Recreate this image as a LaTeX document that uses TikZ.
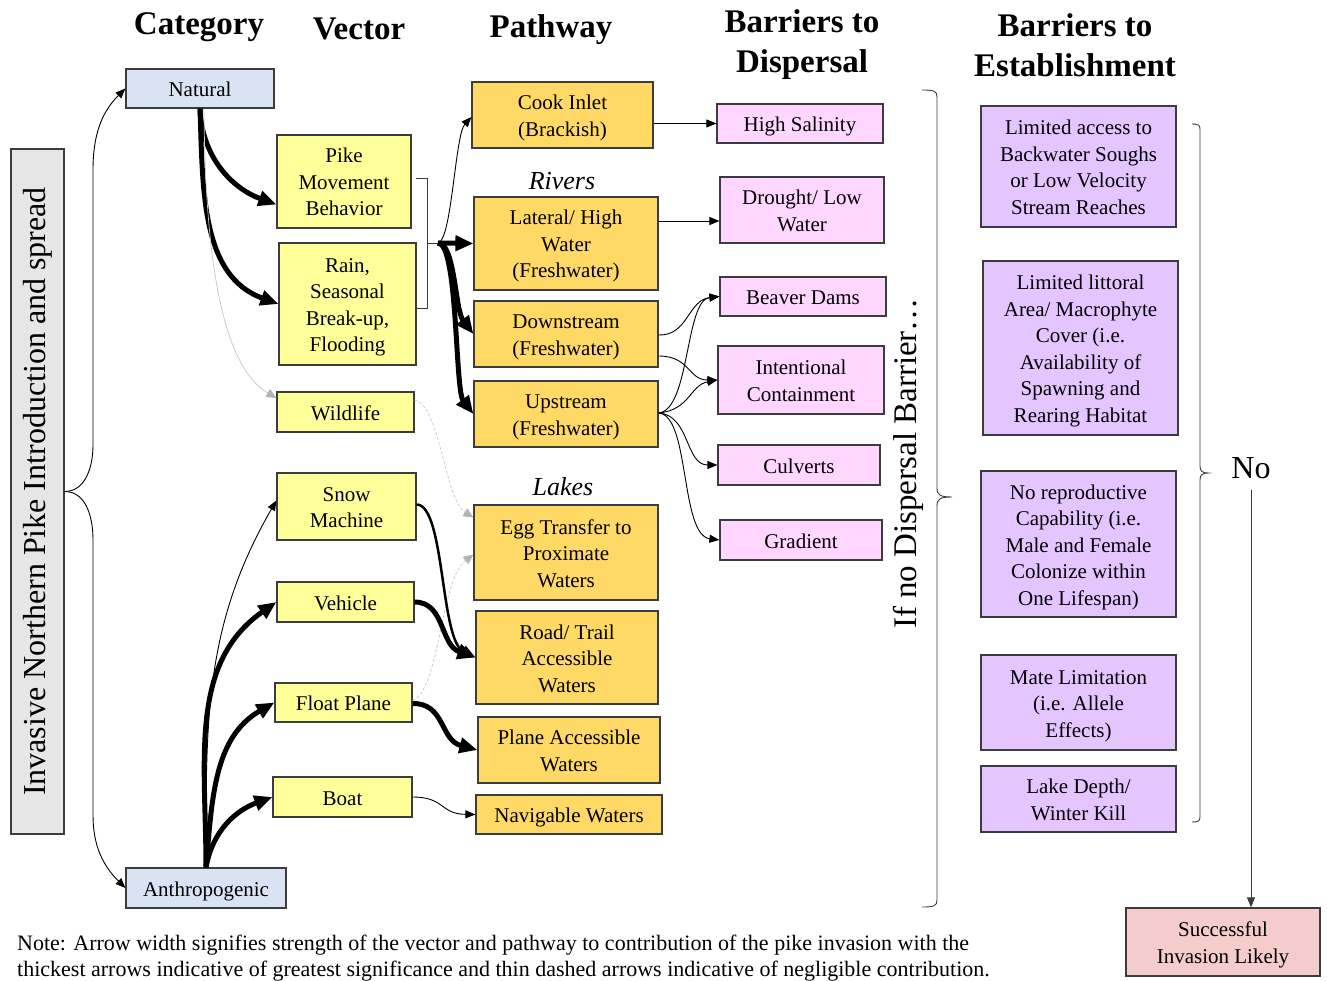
\documentclass[tikz,border=0pt]{standalone}
\usepackage{fontspec}
\setmainfont{Liberation Serif}
\usetikzlibrary{arrows.meta,calc}
\definecolor{catblue}{HTML}{DAE3F3}
\definecolor{titlegray}{HTML}{E6E6E6}
\definecolor{vecyellow}{HTML}{FFFF99}
\definecolor{pathorange}{HTML}{FFD966}
\definecolor{disppink}{HTML}{FFD6FF}
\definecolor{estpurple}{HTML}{E5C5FF}
\definecolor{succpink}{HTML}{F4CCCC}
\definecolor{boxline}{HTML}{3C3C3C}
% strut for the first line of a multi-line box
\newcommand\fl{\rule{0pt}{21pt}}
\begin{document}
\begin{tikzpicture}[x=1pt,y=-1pt,
  box/.style={draw=boxline, line width=1.2pt, align=center, inner sep=1pt,
    font=\fontsize{21}{26.5}\selectfont,
    execute at begin node={\rule{0pt}{21pt}},
    execute at end node={\rule[-5pt]{0pt}{0pt}}},
  catbox/.style={box, fill=catblue},
  vecbox/.style={box, fill=vecyellow},
  pathbox/.style={box, fill=pathorange},
  dispbox/.style={box, fill=disppink},
  estbox/.style={box, fill=estpurple},
  header/.style={align=center, font=\fontsize{33}{40}\selectfont\bfseries},
  sublabel/.style={font=\fontsize{26}{28}\selectfont\itshape},
  thinarr/.style={line width=0.9pt, -{Triangle[length=10pt,width=8pt]}},
  medarr/.style={line width=2.5pt, -{Triangle[length=14pt,width=12pt]}},
  thickarr/.style={line width=5pt, -{Triangle[length=18pt,width=15pt]}},
  faintarr/.style={line width=0.7pt, draw=gray!45, -{Triangle[length=10pt,width=9pt,color=gray!60]}},
  dasharr/.style={faintarr, dash pattern=on 3pt off 2pt},
  bracket/.style={line width=0.9pt, draw=boxline},
]
\fill[white] (0,0) rectangle (1327,981);
\useasboundingbox (0,0) rectangle (1327,981);

% column headers
\node[header] (hcat) at (199,27) {Category};
\node[header] (hvec) at (359,29) {Vector};
\node[header] (hpath) at (551,30) {Pathway};
\node[header] (hdisp) at (802,45) {Barriers to\\Dispersal};
\node[header] (hest) at (1075,45) {Barriers to\\Establishment};

% title bar
\node[draw=boxline, line width=1.2pt, fill=titlegray, rotate=90, minimum width=685pt,
  minimum height=53pt, inner sep=0pt, font=\fontsize{32}{36}\selectfont] (inv) at (37.5,491.5)
  {Invasive Northern Pike Introduction and spread};

% categories
\node[catbox, minimum width=148pt, minimum height=39pt] (natural) at (200,88.5) {Natural};
\node[catbox, minimum width=160pt, minimum height=40pt] (anthro) at (206,888) {Anthropogenic};

% vectors
\node[vecbox, minimum width=134pt, minimum height=93pt] (pike) at (344,181.5) {\fl Pike\\Movement\\Behavior};
\node[vecbox, minimum width=137pt, minimum height=122pt] (rain) at (347.5,304) {\fl Rain,\\Seasonal\\Break-up,\\Flooding};
\node[vecbox, minimum width=137pt, minimum height=40pt] (wild) at (345.5,412) {Wildlife};
\node[vecbox, minimum width=139pt, minimum height=67pt] (snow) at (346.5,506.5) {\fl Snow\\Machine};
\node[vecbox, minimum width=137pt, minimum height=40pt] (vehicle) at (345.5,602) {Vehicle};
\node[vecbox, minimum width=137pt, minimum height=39pt] (float) at (343.5,702.5) {Float Plane};
\node[vecbox, minimum width=139pt, minimum height=40pt] (boat) at (342.5,797) {Boat};

% pathways
\node[pathbox, minimum width=181pt, minimum height=66pt] (cook) at (562.5,115) {\fl Cook Inlet\\(Brackish)};
\node[sublabel] (rivers) at (562,181) {Rivers};
\node[pathbox, minimum width=184pt, minimum height=93pt] (lateral) at (566,243.5) {\fl Lateral/ High\\Water\\(Freshwater)};
\node[pathbox, minimum width=184pt, minimum height=66pt] (down) at (566,334) {\fl Downstream\\(Freshwater)};
\node[pathbox, minimum width=184pt, minimum height=66pt] (up) at (566,414) {\fl Upstream\\(Freshwater)};
\node[sublabel] (lakes) at (563,487) {Lakes};
\node[pathbox, minimum width=184pt, minimum height=95pt] (egg) at (566,552.5) {\fl Egg Transfer to\\Proximate\\Waters};
\node[pathbox, minimum width=182pt, minimum height=93pt] (road) at (567,657.5) {\fl Road/ Trail\\Accessible\\Waters};
\node[pathbox, minimum width=182pt, minimum height=66pt] (plane) at (569,750) {\fl Plane Accessible\\Waters};
\node[pathbox, minimum width=186pt, minimum height=39pt] (navig) at (569,814.5) {Navigable Waters};

% barriers to dispersal
\node[dispbox, minimum width=166pt, minimum height=39pt] (salin) at (800,123.5) {High Salinity};
\node[dispbox, minimum width=164pt, minimum height=66pt] (drought) at (802,210) {\fl Drought/ Low\\Water};
\node[dispbox, minimum width=166pt, minimum height=39pt] (beaver) at (803,296.5) {Beaver Dams};
\node[dispbox, minimum width=166pt, minimum height=68pt] (intent) at (801,380) {\fl Intentional\\Containment};
\node[dispbox, minimum width=162pt, minimum height=40pt] (culv) at (799,465) {Culverts};
\node[dispbox, minimum width=162pt, minimum height=40pt] (grad) at (801,540) {Gradient};

\node[rotate=90, font=\fontsize{33}{36}\selectfont] (ifno) at (908,463.5) {If no Dispersal Barrier\dots};

% barriers to establishment
\node[estbox, minimum width=195pt, minimum height=121pt] (est1) at (1078.5,166.5)
  {\fl Limited access to\\Backwater Soughs\\or Low Velocity\\Stream Reaches};
\node[estbox, minimum width=195pt, minimum height=174pt] (est2) at (1080.5,348)
  {\fl Limited littoral\\Area/ Macrophyte\\Cover (i.e.\\Availability of\\Spawning and\\Rearing Habitat};
\node[estbox, minimum width=195pt, minimum height=146pt] (est3) at (1078.5,544)
  {\fl No reproductive\\Capability (i.e.\\Male and Female\\Colonize within\\One Lifespan)};
\node[estbox, minimum width=195pt, minimum height=95pt] (est4) at (1078.5,702.5)
  {\fl Mate Limitation\\(i.e. Allele\\Effects)};
\node[estbox, minimum width=195pt, minimum height=66pt] (est5) at (1078.5,799)
  {\fl Lake Depth/\\Winter Kill};

\node[font=\fontsize{32}{36}\selectfont] (no) at (1251,468) {No};
\node[box, fill=succpink, minimum width=194pt, minimum height=68pt] (succ) at (1223,942)
  {\fl Successful\\Invasion Likely};

% note
\node[anchor=west, align=left, inner sep=0pt, font=\fontsize{22}{26}\selectfont] (note) at (17,958)
  {Note: Arrow width signifies strength of the vector and pathway to contribution of the pike invasion with the\\
   thickest arrows indicative of greatest significance and thin dashed arrows indicative of negligible contribution.};

% brace from the title bar to the two categories
\coordinate (lbu1) at (93,445);
\coordinate (lbu2) at (93,170);
\coordinate (lbd1) at (93,540);
\coordinate (lbd2) at (93,815);
\draw[thinarr] (inv.south) to[out=0,in=-90] (lbu1) -- (lbu2) to[out=90,in=-135] (natural.west);
\draw[thinarr] (inv.south) to[out=0,in=90] (lbd1) -- (lbd2) to[out=-90,in=135] (anthro.west);

% natural vectors
\draw[thickarr] (natural.south) to[out=-88,in=160] ([yshift=-23pt]pike.west);
\draw[thickarr] (natural.south) to[out=-88,in=160] (rain.west);
\draw[faintarr] ([xshift=4pt]natural.south) .. controls (205,250) and (220,365) .. ([yshift=14pt]wild.west);

% anthropogenic vectors
\draw[thinarr] (anthro.north) to[out=90,in=-120] ([yshift=6pt]snow.west);
\draw[thickarr] (anthro.north) to[out=90,in=-145] (vehicle.west);
\draw[thickarr] (anthro.north) to[out=85,in=-150] (float.west);
\draw[thickarr] (anthro.north) to[out=80,in=-160] (boat.west);

% bracket joining the two natural vectors
\coordinate (brk) at (438,243);
\draw[bracket] (416,178) -- (427,178) -- (427,308) -- (416,308);
\draw[bracket] (427,243) -- (brk);

% natural pathways
\draw[thinarr] (brk) .. controls (452,240) and (455,135) .. ([yshift=-2pt]cook.west);
\draw[thickarr] (brk) -- (lateral.west);
\draw[thickarr] (brk) .. controls (455,243) and (455,310) .. (down.west);
\draw[thickarr] (brk) .. controls (458,243) and (455,390) .. (up.west);

% negligible pathways
\draw[dasharr] ([yshift=12pt]wild.east) .. controls (440,405) and (445,500) .. ([yshift=35pt]egg.west);
\draw[dasharr] ([yshift=2pt]float.east) .. controls (440,690) and (440,580) .. ([yshift=-2pt]egg.west);

% anthropogenic pathways
\draw[medarr] ([yshift=2pt]snow.east) .. controls (445,505) and (440,640) .. (road.west);
\draw[thickarr] (vehicle.east) .. controls (445,602) and (440,645) .. (road.west);
\draw[thickarr] ([yshift=-1pt]float.east) .. controls (445,703) and (440,740) .. (plane.west);
\draw[thinarr] (boat.east) .. controls (445,797) and (440,814) .. (navig.west);

% pathways to dispersal barriers
\draw[thinarr] (cook.east |- salin.west) -- (salin.west);
\draw[thinarr] ([yshift=22.5pt]lateral.east) -- ([yshift=-11pt]drought.west);
\draw[thinarr] ([yshift=-1pt]down.east) .. controls (688,336) and (688,300) .. (beaver.west);
\draw[thinarr] ([yshift=-22pt]down.east) .. controls (690,356) and (688,380) .. (intent.west);
\draw[thinarr] ([yshift=1pt]up.east) .. controls (690,410) and (685,300) .. (beaver.west);
\draw[thinarr] ([yshift=1pt]up.east) .. controls (690,410) and (690,385) .. (intent.west);
\draw[thinarr] ([yshift=1pt]up.east) .. controls (690,415) and (685,465) .. (culv.west);
\draw[thinarr] ([yshift=1pt]up.east) .. controls (690,415) and (680,535) .. (grad.west);

% brace closing the dispersal barriers
\draw[bracket] (922,90) .. controls (934,90) and (937,91) .. (937,97) -- (937,488)
  .. controls (937,495) and (940,497) .. (952,497)
  .. controls (940,497) and (937,499) .. (937,506) -- (937,900)
  .. controls (937,906) and (934,907) .. (922,907);

% brace closing the establishment barriers
\draw[bracket] (1192,124) .. controls (1198,124) and (1200,125) .. (1200,129) -- (1200,466)
  .. controls (1200,471) and (1202,473) .. (1208,473)
  .. controls (1202,473) and (1200,475) .. (1200,480) -- (1200,817)
  .. controls (1200,821) and (1198,822) .. (1192,822);

\draw[thinarr, draw=boxline] ([yshift=-8pt]no.south) -- (no.south |- succ.north);
\end{tikzpicture}
\end{document}
